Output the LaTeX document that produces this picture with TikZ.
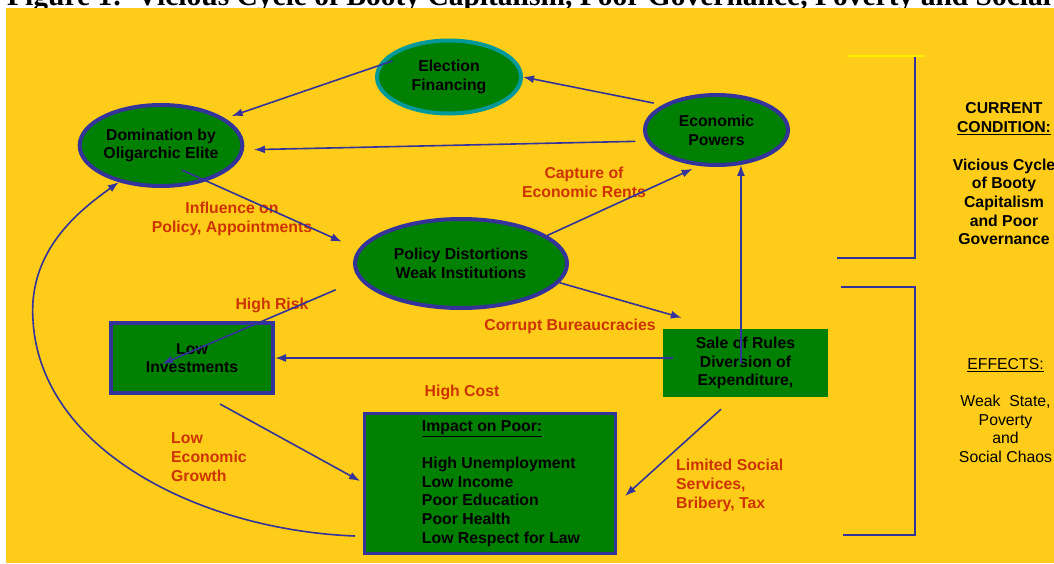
\documentclass[tikz,border=0pt]{standalone}
\usepackage{fontspec}
\setmainfont{Liberation Sans}
\newfontfamily\headfont{Liberation Serif}
\usepackage{tikz}
\usetikzlibrary{arrows.meta}
\usetikzlibrary{shapes.geometric}
\usetikzlibrary{calc}

\definecolor{sunyellow}{RGB}{255,205,25}
\definecolor{leafgreen}{RGB}{0,128,0}
\definecolor{inkblue}{RGB}{51,51,153}
\definecolor{tealrim}{RGB}{0,153,153}
\definecolor{rustred}{RGB}{204,51,0}

\begin{document}
\begin{tikzpicture}[x = 1pt, y = -1pt,
    bubble/.style = {ellipse, draw = inkblue, line width = 4pt, fill = leafgreen,
        inner sep = 0, align = center},
    panel/.style = {rectangle, fill = leafgreen, inner sep = 0, align = center},
    link/.style = {draw = inkblue, line width = 1.6pt, -{Latex[length = 11pt, width = 8pt]}},
    cause/.style = {text = rustred, align = center, inner sep = 0},
    bracket/.style = {inkblue, line width = 2.6pt}]
    \fontsize{15.8}{18.7}\selectfont\bfseries
    %% page
    \useasboundingbox (0, 0) rectangle (1054, 563);
    \clip (0, 0) rectangle (1054, 563);
    \fill[white] (0, 0) rectangle (1054, 563);
    \node[anchor = base west, inner sep = 0,
        font = \headfont\fontsize{29.5}{32}\selectfont\bfseries] (title) at (7, 5.5)
        {Figure 1:\ \ Vicious Cycle of Booty Capitalism, Poor Governance, Poverty and Social};
    \fill[sunyellow] (6, 8) rectangle (1054, 563);

    %% ovals
    \node[bubble, draw = tealrim, minimum width = 144pt, minimum height = 73pt]
        (elect) at (449, 77) {Election\\Financing};
    \node[bubble, minimum width = 152pt, minimum height = 81pt]
        (domin) at (161, 145.5) {Domination by\\Oligarchic Elite};
    \node[bubble, minimum width = 143pt, minimum height = 70pt]
        (econ) at (716.5, 130) {Economic\\Powers};
    \node[bubble, minimum width = 212pt, minimum height = 89pt]
        (policy) at (461, 263.5) {Policy Distortions\\Weak Institutions};

    %% boxes
    \node[panel, draw = inkblue, line width = 4pt, minimum width = 162pt, minimum height = 70pt]
        (lowinv) at (192, 358) {Low\\Investments};
    \node[panel, minimum width = 165pt, minimum height = 68pt]
        (sale) at (745.5, 363) {Sale of Rules\\Diversion of\\Expenditure,};
    \node[panel, draw = inkblue, line width = 3pt, minimum width = 251pt, minimum height = 140pt]
        (impact) at (490, 483.5) {\begin{tabular}{@{\hspace{22pt}}l@{}}
            \underline{Impact on Poor:}\\ \\
            High Unemployment\\
            Low Income\\
            Poor Education\\
            Poor Health\\
            Low Respect for Law
        \end{tabular}};

    %% labels
    \node[cause] (rents) at (584, 182.5) {Capture of\\Economic Rents};
    \node[cause] (sway) at (232, 219) {Influence on\\Policy, Appointments};
    \node[cause] (risk) at (272, 305) {High Risk};
    \node[cause] (corrupt) at (570, 326) {Corrupt Bureaucracies};
    \node[cause] (cost) at (462, 392) {High Cost};
    \node[cause, anchor = west, align = left] (growth) at (171, 457) {Low\\Economic\\Growth};
    \node[cause, anchor = west, align = left] (services) at (676, 485.5)
        {Limited Social\\Services,\\Bribery, Tax};

    %% side notes
    \node[align = center] (current) at (1004, 174)
        {CURRENT\\\underline{CONDITION:}\\[18.7pt]Vicious Cycle\\of Booty\\Capitalism\\and Poor\\Governance};
    \node[align = center, font = \mdseries] (effects) at (1005.5, 410.5)
        {\underline{EFFECTS:}\\[18.7pt]Weak\ \ State,\\Poverty\\and\\Social Chaos};

    %% brackets
    \draw[yellow, line width = 2pt] (847, 56) -- (924, 56);
    \draw[bracket] (915, 57) -- (915, 258) -- (837, 258);
    \draw[bracket] (841, 287) -- (915, 287) -- (915, 535) -- (843, 535);

    %% arrows
    \draw[link, shorten <= -15pt, shorten >= 7pt] (elect.171) -- (domin.23);
    \draw[link, shorten <= 9pt] (econ.155) -- (elect.east);
    \draw[link, shorten <= 11pt, shorten >= 10pt] (econ.189) -- (domin.-3);
    \draw[link, shorten <= -27pt, shorten >= 18pt] (domin.-38) -- (policy.172);
    \draw[link, shorten >= 7pt] (policy.18) -- (econ.-116);
    \draw[link, shorten <= 26pt] (policy.189) -- ([shift={(-30, 6)}]lowinv.center);
    \draw[link] (policy.-11) -- ([shift={(19, -11)}]sale.north west);
    \draw[link] (econ.-55 |- sale.center) -- (econ.-55);
    \draw[link] ($(lowinv.east -| sale.west) + (10, 0)$) -- (lowinv.east);
    \draw[link] ([shift={(-24.5, 12)}]sale.south) -- ([shift={(8, 12.5)}]impact.east);
    \draw[link] ([shift={(28, 9)}]lowinv.south) -- ([shift={(-3, -2.5)}]impact.west);
    \draw[link] ([shift={(-8, -19)}]impact.south west)
        .. controls (200, 530) and (40, 450) .. (33, 320)
        .. controls (28, 250) and (80, 210) .. (domin.221);
\end{tikzpicture}
\end{document}
